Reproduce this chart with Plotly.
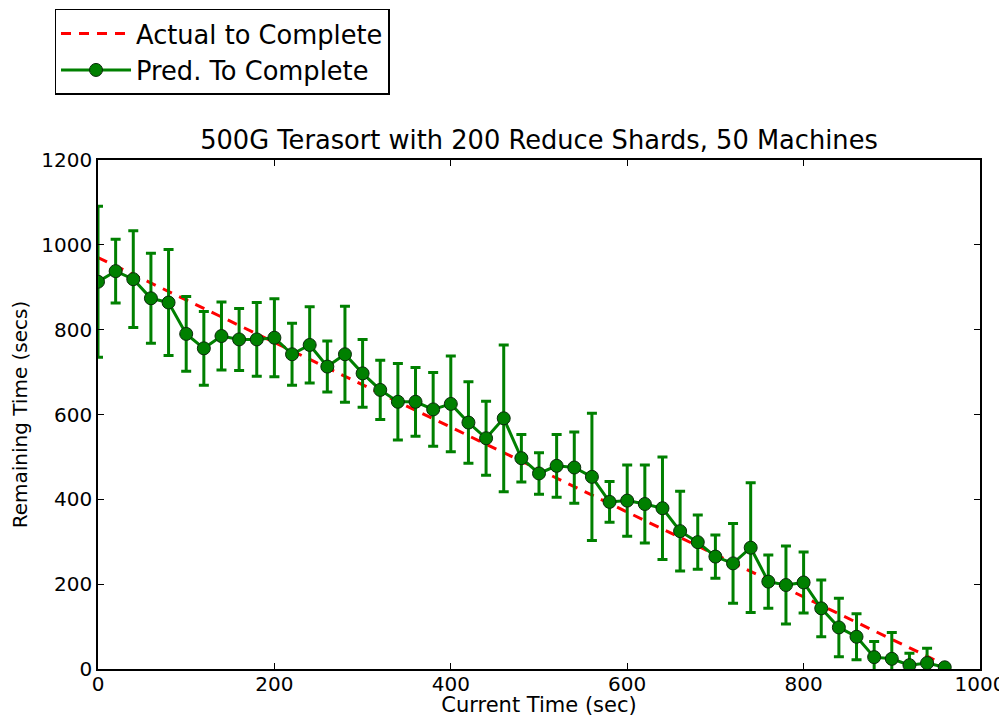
import plotly.graph_objects as go

# ---- data ----
current_time = [0, 20, 40, 60, 80, 100, 120, 140, 160, 180, 200, 220, 240, 260, 280,
                300, 320, 340, 360, 380, 400, 420, 440, 460, 480, 500, 520, 540, 560,
                580, 600, 620, 640, 660, 680, 700, 720, 740, 760, 780, 800, 820, 840,
                860, 880, 900, 920, 940, 960]

actual_remaining = [970, 950, 930, 910, 890, 870, 850, 830, 810, 790, 770, 750, 730, 710,
                    690, 670, 650, 630, 610, 590, 570, 550, 530, 510, 490, 470, 450, 430,
                    410, 390, 370, 350, 330, 310, 290, 270, 250, 230, 210, 190, 170, 150,
                    130, 110, 90, 70, 50, 30, 10]

pred_remaining = [913, 938, 919, 874, 864, 790, 756, 785, 777, 777, 781, 742, 764, 713, 742,
                  697, 658, 630, 630, 612, 625, 581, 544, 591, 497, 461, 479, 475, 453,
                  394, 397, 389, 379, 325, 299, 265, 249, 286, 206, 198, 204, 143, 98,
                  76, 28, 24, 9, 14, 4]

pred_error = [178, 75, 114, 106, 125, 88, 87, 80, 73, 87, 92, 73, 90, 60, 113,
              80, 70, 90, 81, 87, 113, 96, 87, 173, 56, 49, 74, 84, 150,
              48, 84, 92, 121, 94, 64, 51, 94, 153, 63, 92, 72, 67, 69,
              54, 37, 62, 28, 35, 0]

x_ticks = [0, 200, 400, 600, 800, 1000]
y_ticks = [0, 200, 400, 600, 800, 1000, 1200]

FONT = "DejaVu Sans"
FIG_W, FIG_H = 999, 709  # page body has an 8px default margin

fig = go.Figure()

fig.add_trace(go.Scatter(
    x=current_time, y=actual_remaining, mode="lines",
    name="Actual to Complete",
    line=dict(color="red", width=3, dash="10px,8px"),
    cliponaxis=True,
))

fig.add_trace(go.Scatter(
    x=current_time, y=pred_remaining, mode="lines+markers",
    name="Pred. To Complete",
    line=dict(color="green", width=3),
    marker=dict(color="green", size=13, line=dict(color="#0a2a0a", width=1)),
    error_y=dict(type="data", array=pred_error, visible=True,
                 color="green", thickness=3, width=5),
    cliponaxis=True,
))

axis_common = dict(
    showline=True, linecolor="black", linewidth=1.5, mirror="ticks",
    ticks="inside", ticklen=6, tickwidth=1, tickcolor="black",
    showgrid=False, zeroline=False, automargin=False,
    tickfont=dict(family=FONT, size=20, color="black"),
)

fig.update_xaxes(range=[0, 1000], tickvals=x_ticks, ticklabelstandoff=-4,
                 title=dict(text="Current Time (sec)", font=dict(family=FONT, size=21, color="black"),
                            standoff=0),
                 **axis_common)
fig.update_yaxes(range=[0, 1200], tickvals=y_ticks,
                 title=dict(text="Remaining Time (secs)", font=dict(family=FONT, size=20, color="black"),
                            standoff=11),
                 **axis_common)

fig.update_layout(
    width=FIG_W, height=FIG_H,
    margin=dict(l=90, r=27, t=152, b=48, autoexpand=False),
    plot_bgcolor="white", paper_bgcolor="white",
    font=dict(family=FONT, color="black"),
    title=dict(text="500G Terasort with 200 Reduce Shards, 50 Machines",
               font=dict(family=FONT, size=25.7, color="black"),
               x=0.5, xref="paper", xanchor="center",
               y=1 - 132 / FIG_H, yanchor="middle"),
    legend=dict(x=-0.0493, y=1.297, xanchor="left", yanchor="top",
                bordercolor="black", borderwidth=1.5, bgcolor="white",
                font=dict(family=FONT, size=25.7, color="black"),
                itemwidth=70),
    showlegend=True,
)

fig.write_html("out.html")
